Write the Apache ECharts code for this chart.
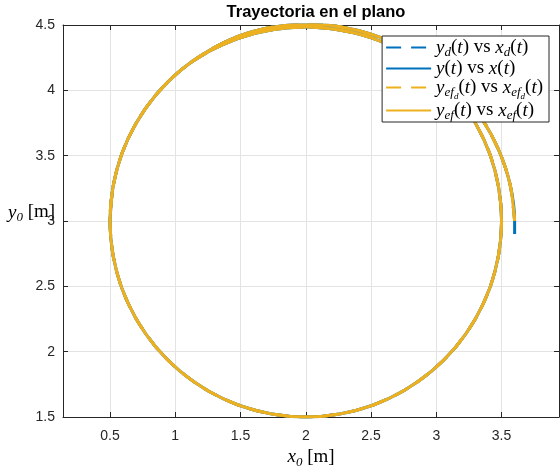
<!DOCTYPE html>
<html>
<head>
<meta charset="utf-8">
<script src="https://cdn.jsdelivr.net/npm/echarts@6/dist/echarts.min.js"></script>
<style>
  html, body { margin: 0; padding: 0; background: #fff; }
  #chart { width: 560px; height: 468px; }
</style>
</head>
<body>
<div id="chart"></div>
<script>
// trajectory: first lap spirals in from (3.6, 3.0), second lap on the circle
var pathX = [3.6, 3.566, 3.480, 3.351, 3.183, 2.987, 2.763, 2.518, 2.262, 2.0, 1.739, 1.485, 1.25,
    1.036, 0.851, 0.701, 0.590, 0.523, 0.5, 0.523, 0.590, 0.701, 0.851, 1.036, 1.250, 1.487, 1.740,
    2.0, 2.260, 2.513, 2.750, 2.964, 3.149, 3.299, 3.410, 3.477, 3.5,
    3.477, 3.410, 3.299, 3.149, 2.964, 2.748, 2.510, 2.258, 2.0, 1.742, 1.490, 1.253,
    1.036, 0.851, 0.701, 0.590, 0.523, 0.5];
var pathY = [3.0, 3.276, 3.539, 3.780, 3.993, 4.176, 4.321, 4.424, 4.487, 4.505, 4.482, 4.414, 4.299,
    4.149, 3.964, 3.750, 3.513, 3.260, 3.0, 2.740, 2.487, 2.250, 2.036, 1.851, 1.701, 1.590, 1.523,
    1.5, 1.523, 1.590, 1.701, 1.851, 2.036, 2.250, 2.487, 2.740, 3.0,
    3.260, 3.513, 3.750, 3.964, 4.149, 4.295, 4.400, 4.462, 4.485, 4.464, 4.400, 4.295,
    4.149, 3.964, 3.750, 3.513, 3.260, 3.0];
// the measured trajectory starts a bit lower
var actualStart = [3.6, 2.9];

var seriesNames = ['yd', 'y', 'yefd', 'yef'];
var ofT = '{r|(}{m|t}{r|)}';
var legendLabels = {
    yd: '{m|y}{s|d}' + ofT + '{r| vs }{m|x}{s|d}' + ofT,
    y: '{m|y}' + ofT + '{r| vs }{m|x}' + ofT,
    yefd: '{m|y}{s|ef}{ss|d}' + ofT + '{r| vs }{m|x}{s|ef}{ss|d}' + ofT,
    yef: '{m|y}{s|ef}' + ofT + '{r| vs }{m|x}{s|ef}' + ofT
};

var blue = '#0072BD';
var yellow = '#EDB120';
var axisColor = '#262626';

function toPairs(xs, ys) {
    var out = [];
    for (var i = 0; i < xs.length; i++) {
        out.push([xs[i], ys[i]]);
    }
    return out;
}

var pathData = toPairs(pathX, pathY);
var actualData = [actualStart].concat(pathData);

var mathRich = {
    m: { fontFamily: 'Liberation Serif', fontStyle: 'italic', fontSize: 19, lineHeight: 18, color: '#000' },
    r: { fontFamily: 'Liberation Serif', fontSize: 19, lineHeight: 18, color: '#000' },
    s: { fontFamily: 'Liberation Serif', fontStyle: 'italic', fontSize: 13, lineHeight: 12, color: '#000', padding: [5, 0, -5, 0] },
    ss: { fontFamily: 'Liberation Serif', fontStyle: 'italic', fontSize: 9, lineHeight: 9, color: '#000', padding: [9, 0, -9, 0] }
};

var chart = echarts.init(document.getElementById('chart'));

var option = {
    animation: false,
    backgroundColor: '#fff',
    title: {
        text: 'Trayectoria en el plano',
        left: 311,
        top: -1,
        textAlign: 'center',
        textStyle: { fontFamily: 'Liberation Sans', fontWeight: 'bold', fontSize: 16.5, color: '#000' }
    },
    graphic: [{
        type: 'text',
        left: 8,
        top: 203,
        style: { text: '{m|y}{s|0}{r| [m]}', rich: mathRich }
    }],
    legend: {
        data: seriesNames,
        right: 11,
        top: 36,
        orient: 'vertical',
        backgroundColor: '#fff',
        borderColor: axisColor,
        borderWidth: 1,
        borderRadius: 0,
        padding: [2, 6, 0, 3],
        itemGap: 0,
        itemWidth: 45,
        itemHeight: 14,
        itemStyle: { opacity: 0 },
        formatter: function (name) { return legendLabels[name]; },
        textStyle: { rich: mathRich }
    },
    grid: { left: 63, top: 25, width: 496, height: 392, outerBoundsMode: 'none', containLabel: false },
    xAxis: [{
        type: 'value',
        min: 0.14,
        max: 3.94,
        splitNumber: 7,
        name: '{m|x}{s|0}{r| [m]}',
        nameLocation: 'middle',
        nameGap: 30,
        nameTextStyle: { rich: mathRich },
        axisLine: { lineStyle: { color: axisColor } },
        axisTick: { inside: true, length: 5, lineStyle: { color: axisColor } },
        axisLabel: {
            showMinLabel: false, showMaxLabel: false,
            color: axisColor, fontFamily: 'Liberation Sans', fontSize: 14, margin: 12
        },
        splitLine: { lineStyle: { color: '#e3e3e3' } }
    }, {
        type: 'value',
        position: 'top',
        min: 0.14,
        max: 3.94,
        splitNumber: 7,
        axisLine: { lineStyle: { color: axisColor } },
        axisTick: { inside: true, length: 5, lineStyle: { color: axisColor } },
        axisLabel: { show: false },
        splitLine: { show: false }
    }],
    yAxis: [{
        type: 'value',
        min: 1.5,
        max: 4.5,
        interval: 0.5,
        axisLine: { lineStyle: { color: axisColor } },
        axisTick: { inside: true, length: 5, lineStyle: { color: axisColor } },
        axisLabel: { color: axisColor, fontFamily: 'Liberation Sans', fontSize: 14, margin: 8 },
        splitLine: { lineStyle: { color: '#e3e3e3' } }
    }, {
        type: 'value',
        position: 'right',
        min: 1.5,
        max: 4.5,
        interval: 0.5,
        axisLine: { lineStyle: { color: axisColor } },
        axisTick: { inside: true, length: 5, lineStyle: { color: axisColor } },
        axisLabel: { show: false },
        splitLine: { show: false }
    }],
    series: [{
        name: 'yd',
        type: 'line',
        data: pathData,
        symbol: 'none',
        smooth: 0.3,
        lineStyle: { color: blue, width: 3, type: [15, 10] },
        itemStyle: { color: blue }
    }, {
        name: 'y',
        type: 'line',
        data: actualData,
        symbol: 'none',
        smooth: 0.3,
        lineStyle: { color: blue, width: 3 },
        itemStyle: { color: blue }
    }, {
        name: 'yefd',
        type: 'line',
        data: pathData,
        symbol: 'none',
        smooth: 0.3,
        lineStyle: { color: yellow, width: 3, type: [15, 10] },
        itemStyle: { color: yellow }
    }, {
        name: 'yef',
        type: 'line',
        data: pathData,
        symbol: 'none',
        smooth: 0.3,
        lineStyle: { color: yellow, width: 3 },
        itemStyle: { color: yellow }
    }]
};

chart.setOption(option);
</script>
</body>
</html>
